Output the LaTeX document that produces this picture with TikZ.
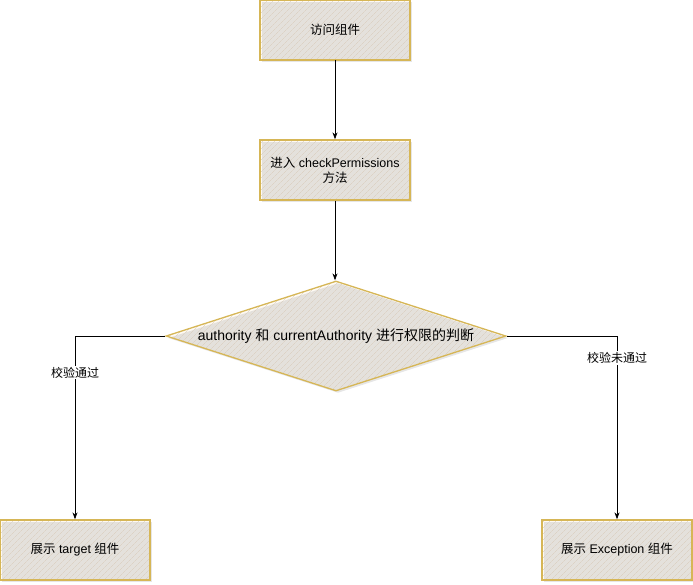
\documentclass[tikz,border=0pt]{standalone}
\usepackage{fontspec}
\setmainfont{Liberation Sans}
\newfontfamily\cjk{Noto Sans CJK SC}
\usetikzlibrary{shapes.geometric,arrows.meta,patterns.meta,shadows}
\definecolor{boxline}{HTML}{D6B656}
\definecolor{boxfill}{HTML}{FEFAF4}
\definecolor{hatch}{HTML}{D9CBB9}
\begin{document}
\begin{tikzpicture}[x=1pt, y=-1pt, line width=0.8pt, >={Stealth[length=7pt,width=5pt]},
  font=\fontsize{12.5}{15}\selectfont,
  sketch/.style={draw=boxline, line width=1.3pt, preaction={fill=boxfill},
    pattern={Lines[angle=45, distance=4pt, line width=0.45pt]}, pattern color=hatch,
    drop shadow={shadow xshift=2pt, shadow yshift=-2pt, opacity=.2}},
  proc node/.style={sketch, rectangle, minimum width=150pt, minimum height=60pt, inner sep=2pt, align=center},
  dec node/.style={sketch, diamond, aspect=3.09, minimum width=340pt, minimum height=110pt, inner sep=0pt,
    font=\fontsize{14}{16}\selectfont},
  lbl/.style={fill=white, inner sep=1pt, font=\fontsize{12}{14}\selectfont}]
\useasboundingbox (0,0) rectangle (693,584);
\node[proc node] (visit) at (335,30) {\cjk 访问组件};
\node[proc node] (check) at (335,170) {{\cjk 进入} checkPermissions\\{\cjk 方法}};
\node[dec node] (judge) at (336,336) {authority {\cjk 和} currentAuthority {\cjk 进行权限的判断}};
\node[proc node] (target) at (75,550) {{\cjk 展示} target {\cjk 组件}};
\node[proc node] (except) at (617,550) {{\cjk 展示} Exception {\cjk 组件}};
\draw[->] (visit) -- (check);
\draw[->] (check) -- (check |- judge.north);
\draw[->] (judge.west) -| node[lbl, pos=0.6] {\cjk 校验通过} (target.north);
\draw[->] (judge.east) -| node[lbl, pos=0.56] {\cjk 校验未通过} (except.north);
\end{tikzpicture}
\end{document}
